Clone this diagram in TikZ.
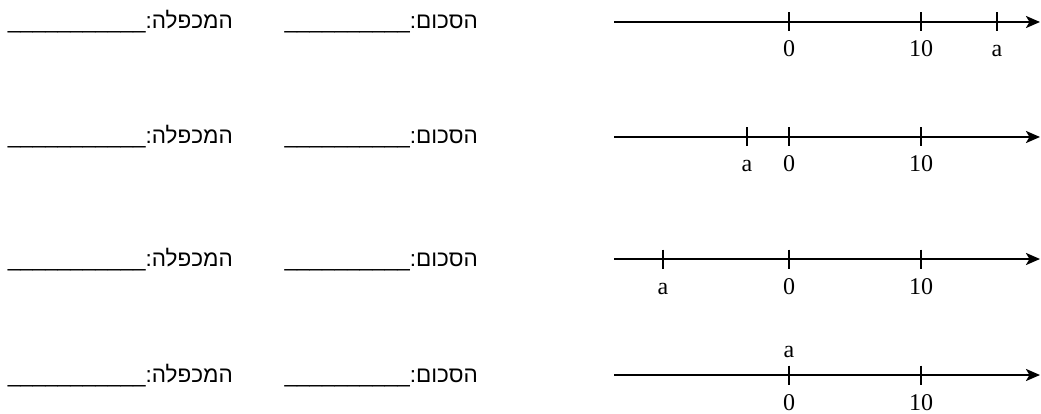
\documentclass[tikz,border=0pt]{standalone}
\usepackage{fontspec}
\setmainfont{Liberation Serif}
\newfontfamily\hebfont[Script=Hebrew]{Liberation Sans}
\TeXXeTstate=1
\usetikzlibrary{arrows.meta}
\begin{document}
\begin{tikzpicture}[x=1pt,y=-1pt,
  axisline/.style={line width=2.4pt,-{Stealth[length=14pt,width=12pt,inset=3.5pt]}},
  tickline/.style={line width=2.4pt},
  numlabel/.style={inner sep=0pt,anchor=base,font=\fontsize{24}{27}\selectfont},
  hebtext/.style={inner sep=0pt,anchor=base east,font=\fontsize{22.5}{25}\selectfont\hebfont}]
\useasboundingbox (0,0) rectangle (1041,414);
% row positions (axis y): 22, 137, 259, 375
\foreach \r/\y in {1/22,2/137,3/259,4/375}{
  \coordinate (s\r) at (614,\y);
  \coordinate (e\r) at (1040,\y);
  \coordinate (z\r) at (789,\y);
  \coordinate (t\r) at (921,\y);
  \draw[axisline] (s\r) -- (e\r);
  \draw[tickline] (z\r) ++(0,-9.5) -- ++(0,19);
  \draw[tickline] (t\r) ++(0,-9.5) -- ++(0,19);
  \node[hebtext] (sum\r) at (478,\y+7) {\beginR הסכום:\_\_\_\_\_\_\_\_\_\_\endR};
  \node[hebtext] (prod\r) at (233,\y+7) {\beginR המכפלה:\_\_\_\_\_\_\_\_\_\_\_\endR};
}
% row 1
\coordinate (a1) at (997,22);
\draw[tickline] (a1) ++(0,-9.5) -- ++(0,19);
\node[numlabel] (lz1) at (789,57) {0};
\node[numlabel] (lt1) at (921,57) {10};
\node[numlabel] (la1) at (997,57) {a};
% row 2
\coordinate (a2) at (747,137);
\draw[tickline] (a2) ++(0,-9.5) -- ++(0,19);
\node[numlabel] (lz2) at (789,172) {0};
\node[numlabel] (lt2) at (921,172) {10};
\node[numlabel] (la2) at (747,172) {a};
% row 3
\coordinate (a3) at (663,259);
\draw[tickline] (a3) ++(0,-9.5) -- ++(0,19);
\node[numlabel] (lz3) at (789,294) {0};
\node[numlabel] (lt3) at (921,294) {10};
\node[numlabel] (la3) at (663,294) {a};
% row 4
\node[numlabel] (lz4) at (789,410) {0};
\node[numlabel] (lt4) at (921,410) {10};
\node[numlabel] (la4) at (789,357) {a};
\end{tikzpicture}
\end{document}
